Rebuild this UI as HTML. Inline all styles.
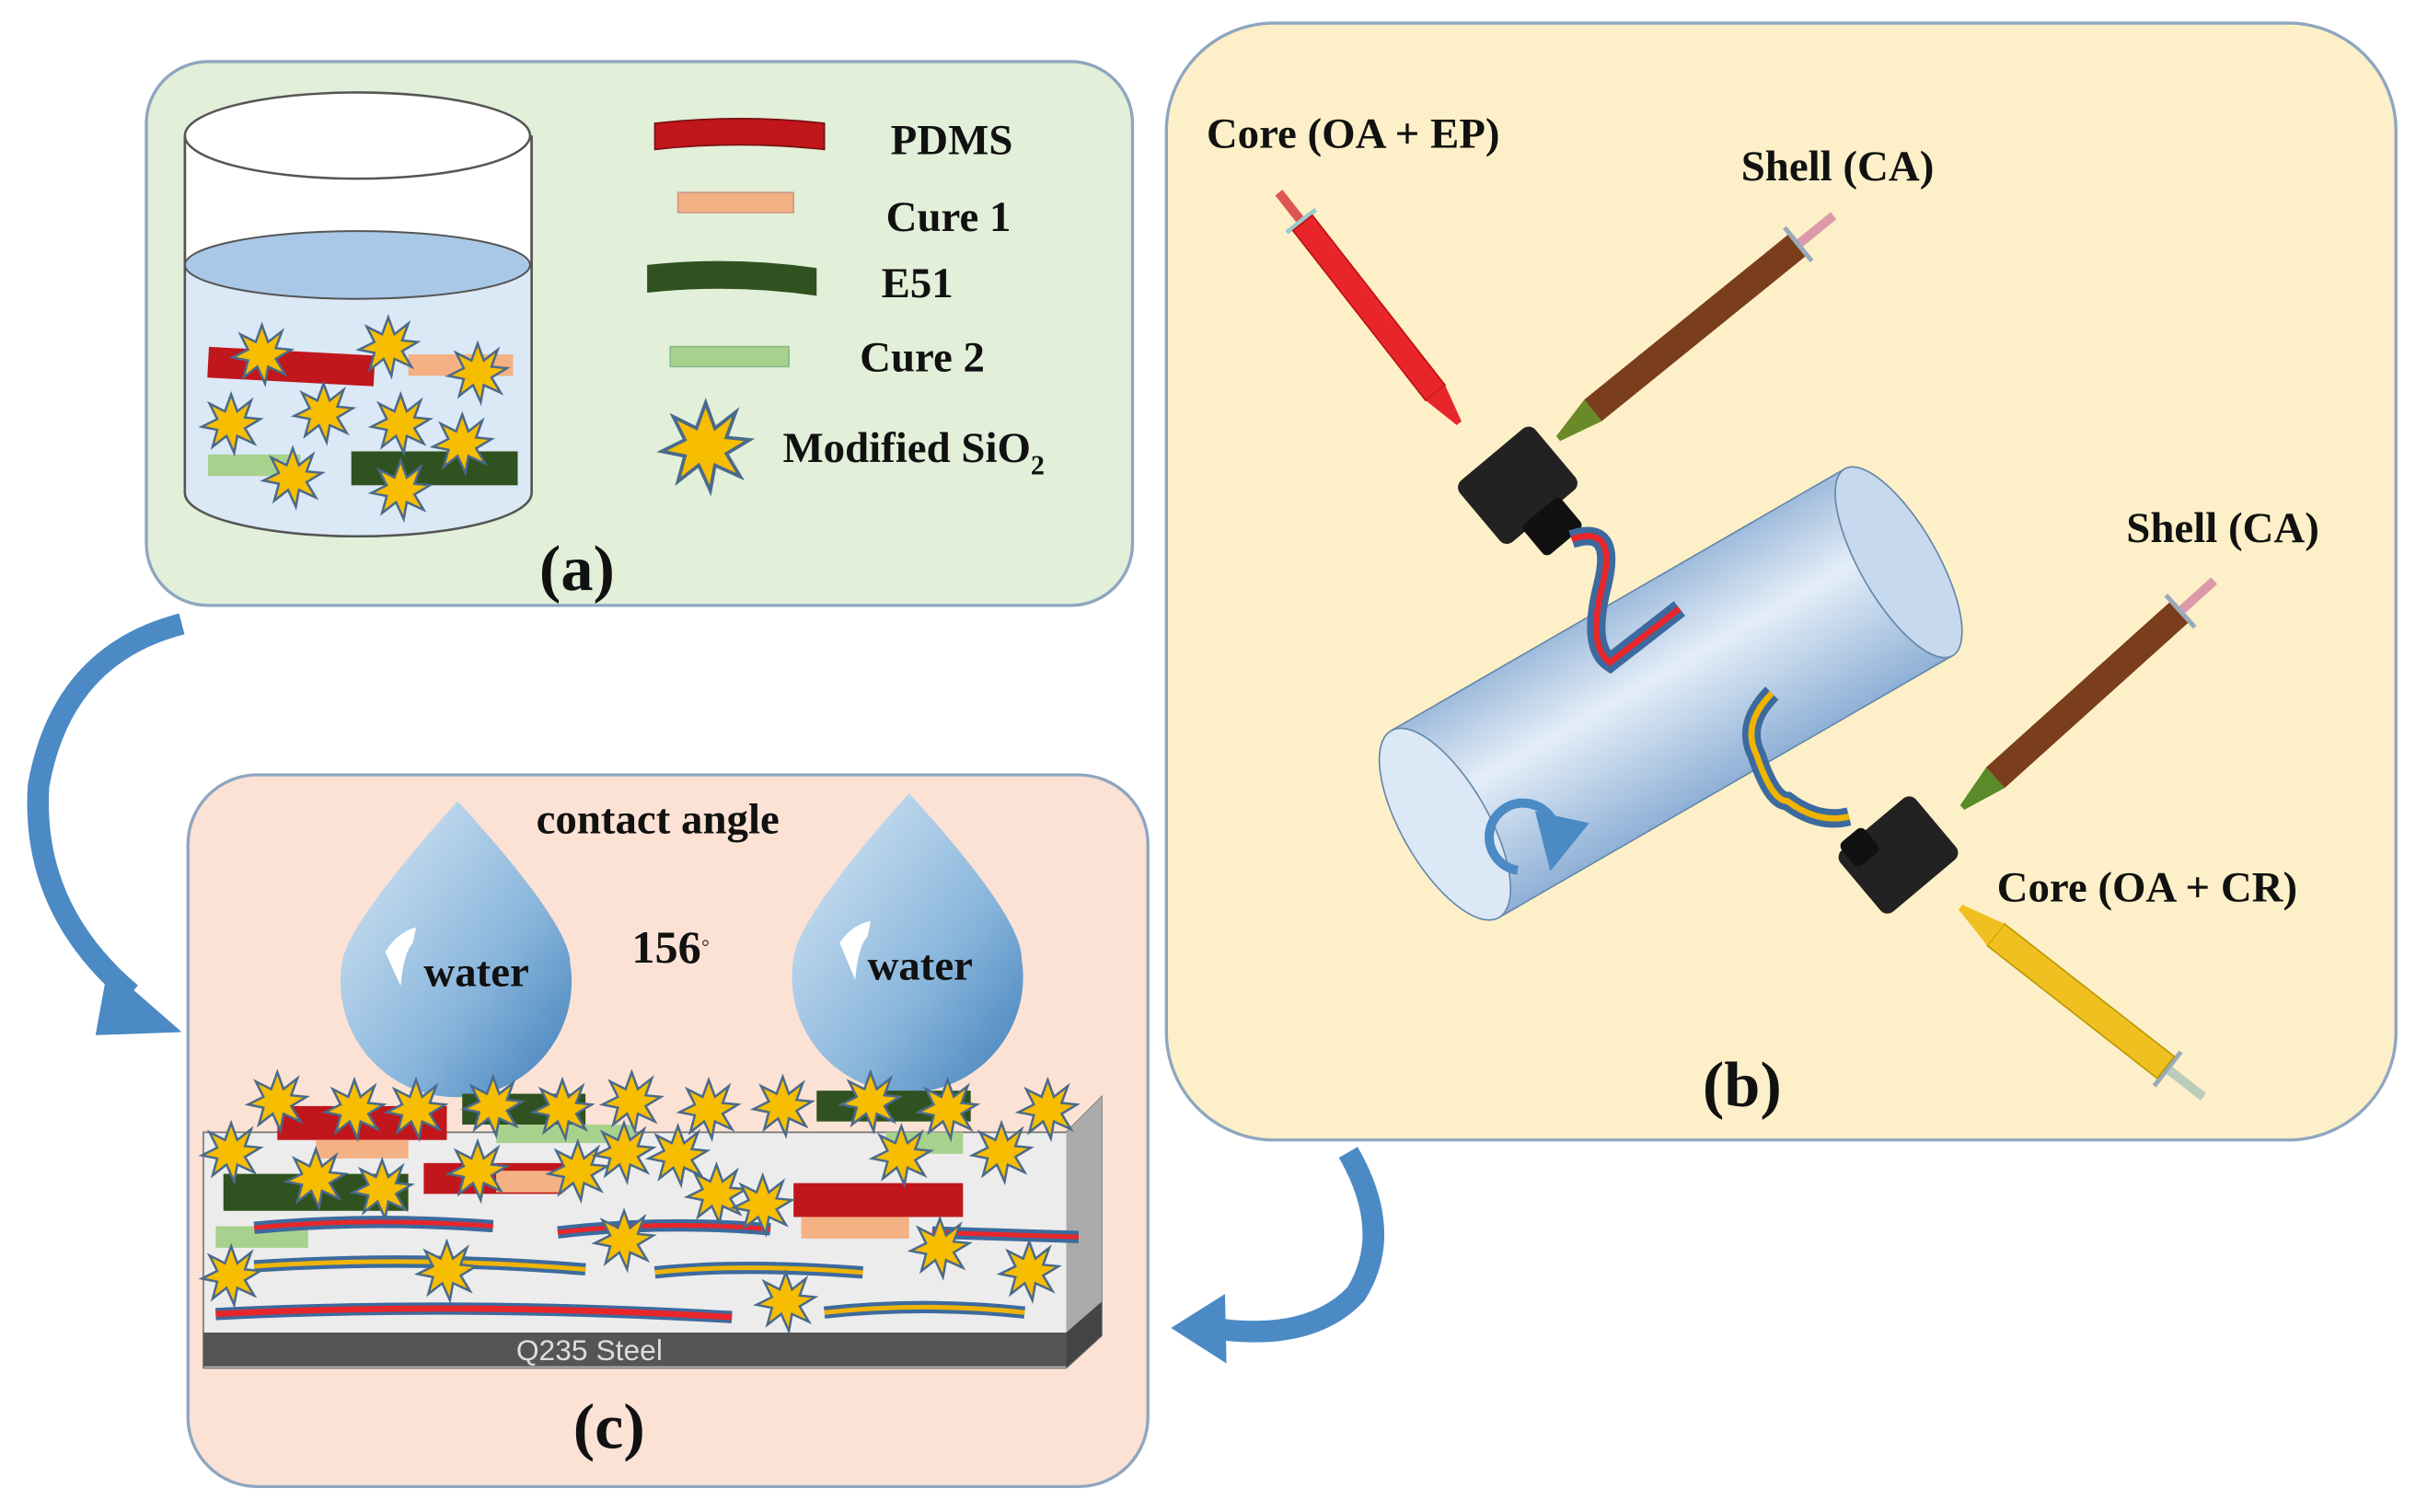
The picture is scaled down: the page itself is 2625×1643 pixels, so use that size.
<!DOCTYPE html>
<html><head><meta charset="utf-8"><style>
html,body{margin:0;padding:0;background:#fff;}
svg{display:block}
text{font-family:"Liberation Serif",serif;font-weight:bold;fill:#111}
</style></head><body>
<svg width="2625" height="1643" viewBox="0 0 1568 981.5" preserveAspectRatio="none" xmlns="http://www.w3.org/2000/svg">
<defs>
<symbol id="st" viewBox="-20 -20 40 40" overflow="visible">
<polygon points="0,-19 4,-8 13,-15 9,-4 19,-3 9,3 15,13 4,8 2,19 -3,8 -12,15 -9,4 -19,2 -9,-3 -14,-13 -4,-8" fill="#f7bd00" stroke="#4a6a8a" stroke-width="1.5"/>
</symbol>
<linearGradient id="drop" x1="0" y1="0" x2="1" y2="1"><stop offset="0" stop-color="#dbeaf6"/><stop offset="0.6" stop-color="#8ab6dc"/><stop offset="1" stop-color="#3f7fba"/></linearGradient>
<linearGradient id="cyl" x1="0" y1="0" x2="0" y2="1"><stop offset="0" stop-color="#9fbbdc"/><stop offset="0.4" stop-color="#e4eef8"/><stop offset="1" stop-color="#8fb0d6"/></linearGradient>
<marker id="ah" markerWidth="6" markerHeight="6" refX="3" refY="3" orient="auto"><path d="M0,0L6,3L0,6z" fill="#4b8ac4"/></marker>
</defs>
<!-- Panel a -->
<rect x="95" y="40" width="640" height="353" rx="40" fill="#e2efd9" stroke="#8ea6c0" stroke-width="2"/>
<path d="M120,88 L120,320 A112,28 0 0 0 345,320 L345,88" fill="#fff" stroke="#555" stroke-width="1.5"/>
<path d="M120,172 L120,320 A112,28 0 0 0 345,320 L345,172z" fill="#dbe8f5"/>
<ellipse cx="232" cy="172" rx="112" ry="22" fill="#a9c8e8" stroke="#555" stroke-width="1.2"/>
<ellipse cx="232" cy="88" rx="112" ry="28" fill="#fff" stroke="#555" stroke-width="1.5"/>
<path d="M120,88 L120,320 A112,28 0 0 0 345,320 L345,88" fill="none" stroke="#555" stroke-width="1.5"/>
<rect x="135" y="228" width="108" height="20" fill="#c0161c" transform="rotate(3 190 238)"/>
<rect x="265" y="230" width="68" height="14" fill="#f4b183"/>
<rect x="135" y="295" width="60" height="14" fill="#a9d18e"/>
<rect x="228" y="293" width="108" height="22" fill="#2f5220"/>
<use href="#st" x="150" y="210" width="40" height="40"/><use href="#st" x="232" y="205" width="40" height="40"/>
<use href="#st" x="290" y="222" width="40" height="40"/><use href="#st" x="130" y="255" width="40" height="40"/>
<use href="#st" x="190" y="248" width="40" height="40"/><use href="#st" x="240" y="255" width="40" height="40"/>
<use href="#st" x="280" y="268" width="40" height="40"/><use href="#st" x="170" y="290" width="40" height="40"/>
<use href="#st" x="240" y="298" width="40" height="40"/>
<path d="M425,80 Q480,74 535,80 L535,97 Q480,91 425,97z" fill="#c0161c" stroke="#7a1010"/>
<rect x="440" y="125" width="75" height="13" fill="#f4b183" stroke="#c98"/>
<path d="M420,172 Q475,166 530,174 L530,192 Q475,184 420,190z" fill="#2f5220"/>
<rect x="435" y="225" width="77" height="13" fill="#a9d18e" stroke="#8b8"/>
<use href="#st" x="428" y="260" width="60" height="60"/>
<text x="578" y="100" font-size="28">PDMS</text>
<text x="575" y="150" font-size="28">Cure 1</text>
<text x="572" y="193" font-size="28">E51</text>
<text x="558" y="241" font-size="28">Cure 2</text>
<text x="508" y="300" font-size="28">Modified SiO<tspan font-size="18" dy="8">2</tspan></text>
<text x="350" y="383" font-size="42">(a)</text>
<!-- Panel b -->
<rect x="757" y="15" width="798" height="725" rx="70" fill="#fdf0c8" stroke="#8ea6c0" stroke-width="2"/>
<text x="783" y="96" font-size="28">Core (OA + EP)</text>
<text x="1130" y="117" font-size="28">Shell (CA)</text>
<text x="1380" y="352" font-size="28">Shell (CA)</text>
<text x="1296" y="585" font-size="28">Core (OA + CR)</text>
<text x="1105" y="718" font-size="42">(b)</text>
<g transform="translate(830,125) rotate(52)">
<rect x="0" y="-3" width="22" height="6" fill="#d55"/>
<rect x="22" y="-12" width="3" height="24" fill="#9cc"/>
<rect x="25" y="-8" width="140" height="16" fill="#e8262a" stroke="#b11"/>
<polygon points="165,-8 190,-2 190,2 165,8" fill="#e8262a"/>
</g>
<g transform="translate(1190,140) rotate(141)">
<rect x="0" y="-3" width="28" height="6" fill="#d9a"/>
<rect x="28" y="-14" width="3" height="28" fill="#9ab"/>
<rect x="31" y="-9" width="170" height="18" fill="#7a3e1d"/>
<polygon points="201,-9 230,-2 230,2 201,9" fill="#6a8a2a"/>
</g>
<g transform="translate(985,315) rotate(-40)">
<rect x="-32" y="-26" width="64" height="52" rx="6" fill="#222"/>
<rect x="-16" y="22" width="32" height="26" rx="4" fill="#111"/>
</g>
<g transform="translate(1085,450) rotate(-30)">
<rect x="-170" y="-70" width="340" height="140" fill="url(#cyl)" stroke="#6688aa"/>
<ellipse cx="170" cy="0" rx="25" ry="70" fill="#c7d9ee" stroke="#6688aa"/>
<ellipse cx="-170" cy="0" rx="28" ry="70" fill="#dce8f5" stroke="#6688aa"/>
</g>
<path d="M985,565 A22,22 0 1 1 1010,548" fill="none" stroke="#4b8ac4" stroke-width="6" marker-end="url(#ah)"/>
<path d="M1020,350 Q1050,340 1040,380 Q1030,420 1045,430 L1090,395" fill="none" stroke="#3c6a9e" stroke-width="12"/>
<path d="M1020,350 Q1050,340 1040,380 Q1030,420 1045,430 L1090,395" fill="none" stroke="#e8262a" stroke-width="4"/>
<path d="M1150,450 Q1130,470 1140,490 Q1150,520 1160,520 Q1180,535 1200,530" fill="none" stroke="#3c6a9e" stroke-width="12"/>
<path d="M1150,450 Q1130,470 1140,490 Q1150,520 1160,520 Q1180,535 1200,530" fill="none" stroke="#f0b400" stroke-width="4"/>
<g transform="translate(1232,555) rotate(-40)">
<rect x="-32" y="-26" width="64" height="52" rx="6" fill="#222"/>
<rect x="-26" y="-30" width="20" height="20" rx="4" fill="#111"/>
</g>
<g transform="translate(1437,377) rotate(138)">
<rect x="0" y="-3" width="28" height="6" fill="#d9a"/>
<rect x="28" y="-14" width="3" height="28" fill="#9ab"/>
<rect x="31" y="-9" width="160" height="18" fill="#7a3e1d"/>
<polygon points="191,-9 220,-2 220,2 191,9" fill="#5a8a2a"/>
</g>
<g transform="translate(1430,712) rotate(-142)">
<rect x="0" y="-3" width="28" height="6" fill="#bcb"/>
<rect x="28" y="-14" width="3" height="28" fill="#9ab"/>
<rect x="31" y="-9" width="140" height="18" fill="#f0c020" stroke="#b90"/>
<polygon points="171,-9 200,-2 200,2 171,9" fill="#f0c020"/>
</g>
<!-- Panel c -->
<rect x="122" y="503" width="623" height="462" rx="45" fill="#fbe2d5" stroke="#8ea6c0" stroke-width="2"/>
<text x="348" y="541" font-size="28">contact angle</text>
<text x="410" y="625" font-size="30">156<tspan font-size="16" dy="-8">◦</tspan></text>
<path d="M297,520 Q370,600 370,625 A75,75 0 1 1 222,625 Q225,600 297,520z" fill="url(#drop)"/>
<path d="M590,515 Q663,595 663,622 A75,75 0 1 1 515,622 Q518,595 590,515z" fill="url(#drop)"/>
<path d="M250,618 Q258,605 270,602 L268,612 Q262,618 260,640z" fill="#fff"/>
<path d="M545,612 Q553,600 565,598 L563,608 Q557,614 555,636z" fill="#fff"/>
<text x="275" y="640" font-size="28">water</text>
<text x="563" y="636" font-size="28">water</text>
<polygon points="132,735 692,735 715,712 715,867 692,888 132,888" fill="#ececec" stroke="#777"/>
<polygon points="692,735 715,712 715,867 692,888" fill="#aaa"/>
<rect x="132" y="865" width="560" height="22" fill="#555"/>
<polygon points="692,865 715,845 715,867 692,888" fill="#444"/>
<text x="335" y="883" font-size="19" style="font-family:'Liberation Sans',sans-serif;font-weight:normal;fill:#ddd">Q235 Steel</text>
<rect x="180" y="718" width="110" height="22" fill="#c0161c"/><rect x="205" y="740" width="60" height="12" fill="#f4b183"/>
<rect x="300" y="710" width="80" height="20" fill="#2f5220"/><rect x="322" y="730" width="90" height="12" fill="#a9d18e"/>
<rect x="530" y="708" width="100" height="20" fill="#2f5220"/><rect x="575" y="735" width="50" height="14" fill="#a9d18e"/>
<rect x="145" y="762" width="120" height="24" fill="#2f5220"/><rect x="275" y="755" width="90" height="20" fill="#c0161c"/>
<rect x="322" y="760" width="45" height="14" fill="#f4b183"/><rect x="515" y="768" width="110" height="22" fill="#c0161c"/>
<rect x="520" y="790" width="70" height="14" fill="#f4b183"/><rect x="140" y="796" width="60" height="14" fill="#a9d18e"/>
<path d="M165,797 Q240,790 320,796" stroke="#3c6a9e" stroke-width="8" fill="none"/><path d="M165,797 Q240,790 320,796" stroke="#e8262a" stroke-width="3" fill="none"/>
<path d="M362,800 Q430,792 500,798" stroke="#3c6a9e" stroke-width="8" fill="none"/><path d="M362,800 Q430,792 500,798" stroke="#e8262a" stroke-width="3" fill="none"/>
<path d="M605,800 L700,803" stroke="#3c6a9e" stroke-width="8" fill="none"/><path d="M605,800 L700,803" stroke="#e8262a" stroke-width="3" fill="none"/>
<path d="M165,822 Q270,815 380,824" stroke="#3c6a9e" stroke-width="8" fill="none"/><path d="M165,822 Q270,815 380,824" stroke="#f0b400" stroke-width="3" fill="none"/>
<path d="M425,826 Q480,820 560,826" stroke="#3c6a9e" stroke-width="8" fill="none"/><path d="M425,826 Q480,820 560,826" stroke="#f0b400" stroke-width="3" fill="none"/>
<path d="M140,853 Q300,845 475,855" stroke="#3c6a9e" stroke-width="8" fill="none"/><path d="M140,853 Q300,845 475,855" stroke="#e8262a" stroke-width="4" fill="none"/>
<path d="M535,852 Q600,845 665,852" stroke="#3c6a9e" stroke-width="8" fill="none"/><path d="M535,852 Q600,845 665,852" stroke="#f0b400" stroke-width="3" fill="none"/>
<g>
<use href="#st" x="160" y="695" width="40" height="40"/><use href="#st" x="210" y="700" width="40" height="40"/><use href="#st" x="250" y="700" width="40" height="40"/>
<use href="#st" x="300" y="698" width="40" height="40"/><use href="#st" x="345" y="700" width="40" height="40"/><use href="#st" x="390" y="695" width="40" height="40"/>
<use href="#st" x="440" y="700" width="40" height="40"/><use href="#st" x="488" y="698" width="40" height="40"/><use href="#st" x="545" y="695" width="40" height="40"/>
<use href="#st" x="595" y="700" width="40" height="40"/><use href="#st" x="660" y="700" width="40" height="40"/><use href="#st" x="130" y="728" width="40" height="40"/>
<use href="#st" x="185" y="745" width="40" height="40"/><use href="#st" x="228" y="752" width="40" height="40"/><use href="#st" x="290" y="740" width="40" height="40"/>
<use href="#st" x="355" y="740" width="40" height="40"/><use href="#st" x="385" y="728" width="40" height="40"/><use href="#st" x="420" y="730" width="40" height="40"/>
<use href="#st" x="445" y="755" width="40" height="40"/><use href="#st" x="475" y="762" width="40" height="40"/><use href="#st" x="565" y="730" width="40" height="40"/>
<use href="#st" x="630" y="728" width="40" height="40"/><use href="#st" x="130" y="808" width="40" height="40"/><use href="#st" x="270" y="805" width="40" height="40"/>
<use href="#st" x="385" y="785" width="40" height="40"/><use href="#st" x="490" y="825" width="40" height="40"/><use href="#st" x="590" y="790" width="40" height="40"/>
<use href="#st" x="648" y="805" width="40" height="40"/>
</g>
<text x="372" y="940" font-size="42">(c)</text>
<!-- arrows -->
<path d="M118,405 Q40,425 25,510 Q20,590 85,645" fill="none" stroke="#4b8ac4" stroke-width="14"/>
<polygon points="70,628 118,670 62,672" fill="#4b8ac4"/>
<path d="M875,748 Q905,800 880,840 Q850,872 785,862" fill="none" stroke="#4b8ac4" stroke-width="14"/>
<polygon points="795,840 760,862 796,885" fill="#4b8ac4"/>
</svg>
</body></html>
